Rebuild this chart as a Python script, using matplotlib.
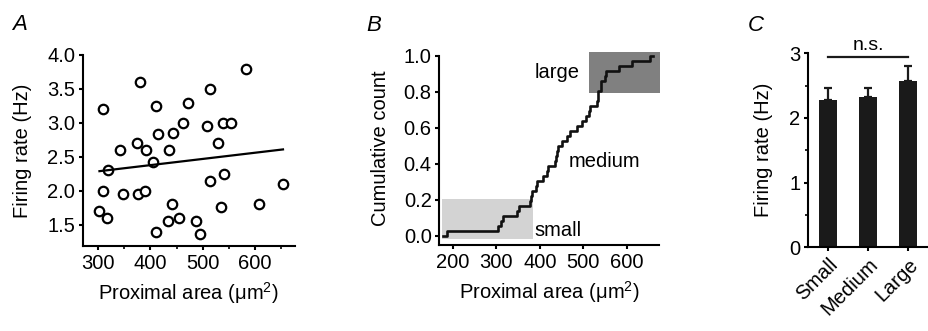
"""
Proximal area vs firing rate: scatter, cumulative distribution, group bars
"""
import numpy as np
import matplotlib
matplotlib.use("Agg")
import matplotlib.pyplot as plt
from matplotlib.patches import Rectangle
from matplotlib.ticker import MultipleLocator

plt.rcParams['font.family'] = ['Liberation Sans', 'DejaVu Sans']
plt.rcParams['mathtext.fontset'] = 'custom'
plt.rcParams['mathtext.rm'] = 'Liberation Sans'
plt.rcParams['axes.linewidth'] = 1.5
plt.rcParams['xtick.major.width'] = 1.5
plt.rcParams['ytick.major.width'] = 1.5
plt.rcParams['xtick.minor.width'] = 1.2
plt.rcParams['ytick.minor.width'] = 1.2
plt.rcParams['xtick.major.size'] = 3
plt.rcParams['ytick.major.size'] = 3
plt.rcParams['xtick.minor.size'] = 2
plt.rcParams['ytick.minor.size'] = 2

FS = 14.5

# --- panel A: proximal area vs firing rate ---
area_a = [309, 303, 317, 310, 319, 342, 348, 381, 374, 377, 391, 389,
          405, 410, 415, 410, 435, 433, 442, 444, 454, 462, 471, 487,
          494, 508, 513, 513, 530, 538, 554, 541, 534, 582, 607, 653]
rate_a = [3.20, 1.70, 1.60, 2.00, 2.30, 2.60, 1.95, 3.60, 2.70, 1.95, 2.60, 2.00,
          2.42, 3.25, 2.83, 1.40, 2.60, 1.55, 1.80, 2.85, 1.60, 3.00, 3.30, 1.56,
          1.36, 2.95, 3.50, 2.14, 2.70, 3.00, 3.00, 2.25, 1.77, 3.80, 1.80, 2.10]
fit_x = [303, 653]
fit_y = [2.29, 2.61]

# --- panel B: sorted proximal areas (cumulative count) ---
area_sorted = [187, 305, 310, 316, 347, 352, 378, 380, 383, 391, 393, 408,
               416, 418, 435, 437, 439, 441, 451, 462, 470, 485, 497, 506,
               514, 516, 531, 533, 535, 540, 542, 551, 553, 582, 612, 654]
curve_start, curve_end = 178, 661
small_box = (175, 384, -0.02, 0.205)
large_box = (514, 677, 0.795, 1.02)

# --- panel C: group means ---
groups = ['Small', 'Medium', 'Large']
group_mean = [2.28, 2.33, 2.57]
group_sem = [0.18, 0.14, 0.23]

fig = plt.figure(figsize=(9.29, 3.31), dpi=100)

# Panel A
ax1 = fig.add_axes([0.089, 0.257, 0.2286, 0.577])
ax1.plot(area_a, rate_a, 'o', ms=6.8, mfc='white', mec='black', mew=1.6, clip_on=False)
ax1.plot(fit_x, fit_y, '-', color='black', lw=1.6)
ax1.set_xlim(271, 676)
ax1.set_ylim(1.19, 4.0)
ax1.set_xticks([300, 400, 500, 600])
ax1.xaxis.set_minor_locator(MultipleLocator(50))
ax1.set_yticks([1.5, 2.0, 2.5, 3.0, 3.5, 4.0])
ax1.set_yticklabels(['1.5', '2.0', '2.5', '3.0', '3.5', '4.0'])
ax1.set_xlabel('Proximal area (μm$^2$)', fontsize=FS, labelpad=5.5)
ax1.set_ylabel('Firing rate (Hz)', fontsize=FS, labelpad=11)
ax1.tick_params(labelsize=FS, pad=2.5)
for s in ['top', 'right']:
    ax1.spines[s].set_visible(False)
ax1.text(-0.296, 1.157, 'A', transform=ax1.transAxes, fontsize=16, style='italic',
         ha='center', va='center')

# Panel B
ax2 = fig.add_axes([0.4729, 0.2598, 0.2368, 0.588])
for (x0, x1, y0, y1), col in [(small_box, '#d3d3d3'), (large_box, '#808080')]:
    ax2.add_patch(Rectangle((x0, y0), x1 - x0, y1 - y0, facecolor=col,
                            edgecolor='none', zorder=0, clip_on=False))
n = len(area_sorted)
step_x = [curve_start] + area_sorted + [curve_end]
step_y = [0.0] + list(np.arange(1, n + 1) / n) + [1.0]
ax2.step(step_x, step_y, where='post', color='#111111', lw=1.9, zorder=3)
ax2.set_xlim(169, 675)
ax2.set_ylim(-0.052, 1.03)
ax2.spines['left'].set_bounds(-0.052, 1.0)
ax2.set_xticks([200, 300, 400, 500, 600])
ax2.set_yticks([0.0, 0.2, 0.4, 0.6, 0.8, 1.0])
ax2.set_yticklabels(['0.0', '0.2', '0.4', '0.6', '0.8', '1.0'])
ax2.set_xlabel('Proximal area (μm$^2$)', fontsize=FS, labelpad=5.5)
ax2.set_ylabel('Cumulative count', fontsize=FS, labelpad=10)
ax2.tick_params(labelsize=FS, pad=2.5)
for s in ['top', 'right']:
    ax2.spines[s].set_visible(False)
ax2.text(439, 0.906, 'large', fontsize=FS, ha='center', va='center')
ax2.text(548, 0.41, 'medium', fontsize=FS, ha='center', va='center')
ax2.text(443, 0.03, 'small', fontsize=FS, ha='center', va='center')
ax2.text(-0.30, 1.13, 'B', transform=ax2.transAxes, fontsize=16, style='italic',
         ha='center', va='center')

# Panel C
ax3 = fig.add_axes([0.870, 0.2529, 0.130, 0.586])
xpos = np.arange(len(groups))
ax3.bar(xpos, group_mean, width=0.45, color='#1a1a1a', zorder=2)
ax3.errorbar(xpos, group_mean, yerr=[np.zeros(len(groups)), group_sem], fmt='none',
             ecolor='#1a1a1a', elinewidth=1.6, capsize=3, capthick=1.6, zorder=1)
ax3.set_xlim(-0.5, 2.52)
ax3.set_ylim(0, 3)
ax3.set_yticks([0, 1, 2, 3])
ax3.yaxis.set_minor_locator(MultipleLocator(0.5))
ax3.set_xticks(xpos)
ax3.set_xticklabels(groups, rotation=45, ha='right', rotation_mode='anchor')
ax3.set_ylabel('Firing rate (Hz)', fontsize=FS, labelpad=12)
ax3.tick_params(labelsize=FS, pad=2.5)
for s in ['top', 'right']:
    ax3.spines[s].set_visible(False)
ax3.plot([xpos[0], xpos[-1]], [2.94, 2.94], color='#1a1a1a', lw=1.6, clip_on=False)
ax3.text(xpos[1], 2.99, 'n.s.', fontsize=14, ha='center', va='bottom')
ax3.text(-0.436, 1.146, 'C', transform=ax3.transAxes, fontsize=16, style='italic',
         ha='center', va='center')

fig.savefig('out.png', dpi=100)
